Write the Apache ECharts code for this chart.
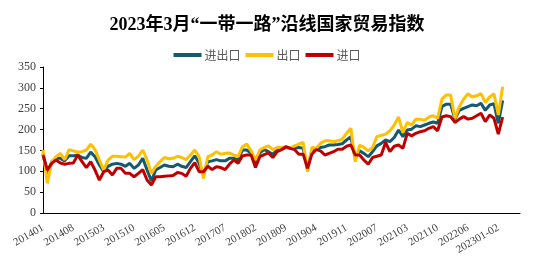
<!DOCTYPE html>
<html>
<head>
<meta charset="utf-8">
<script src="https://cdn.jsdelivr.net/npm/echarts@6/dist/echarts.min.js"></script>
<style>html,body{margin:0;padding:0;background:#fff;}#c{width:534px;height:267px;}</style>
</head>
<body>
<div id="c"></div>
<script>
const titleText = '2023年3月“一带一路”沿线国家贸易指数';
const seriesNames = ['进出口', '出口', '进口'];
const categories = [
'201401','201402','201403','201404','201405','201406','201407','201408','201409','201410','201411','201412',
'201501','201502','201503','201504','201505','201506','201507','201508','201509','201510','201511','201512',
'201601','201602','201603','201604','201605','201606','201607','201608','201609','201610','201611','201612',
'201701','201702','201703','201704','201705','201706','201707','201708','201709','201710','201711','201712',
'201801','201802','201803','201804','201805','201806','201807','201808','201809','201810','201811','201812',
'201901','201902','201903','201904','201905','201906','201907','201908','201909','201910','201911','201912',
'202001-02','202003','202004','202005','202006','202007','202008','202009','202010','202011','202012',
'202101-02','202103','202104','202105','202106','202107','202108','202109','202110','202111','202112',
'202201-02','202203','202204','202205','202206','202207','202208','202209','202210','202211','202212',
'202301-02','202303','202304','202305','202306','202307'
];
const totalIndex = [
143,92,123,131,131,125,137,137,139,133,131,146,
135,115,99,112,117,119,117,112,119,107,115,131,
103,77,103,109,115,112,111,117,112,109,123,137,
119,92,123,125,128,125,125,131,131,127,151,151,
143,118,144,152,147,141,151,152,157,155,155,157,
155,103,151,155,157,159,163,163,164,166,175,183,
131,149,143,135,147,161,167,175,171,181,199,
183,199,201,209,207,211,215,218,215,255,261,
261,225,246,251,255,259,257,263,246,259,262,
215,270
];
const exportIndex = [
151,71,123,135,143,128,152,149,146,147,151,165,
152,127,103,127,136,136,135,134,143,128,136,151,
127,95,112,123,133,130,131,136,133,128,139,151,
135,83,135,139,147,141,143,144,139,135,159,165,
149,127,151,157,161,152,157,157,159,155,161,165,
169,99,157,155,167,173,173,171,173,177,191,203,
123,163,157,149,157,183,186,189,197,211,230,
193,217,211,225,225,222,230,233,227,273,283,
283,227,255,273,286,278,281,286,265,278,286,
235,303
];
const importIndex = [
139,103,119,127,120,117,119,120,139,123,109,123,
103,79,99,103,91,107,107,95,95,87,95,104,
79,67,87,87,88,89,90,97,95,88,107,121,
99,99,112,104,111,109,104,117,127,119,137,139,
139,109,135,140,144,133,147,152,159,155,152,141,
141,107,141,152,149,139,143,147,153,153,160,163,
139,139,127,117,133,136,139,169,147,160,163,
155,191,185,191,195,197,203,207,197,230,233,
231,217,225,231,225,227,233,239,219,235,227,
189,230
];
const yTicks = {min: 0, max: 350, interval: 50};
const colors = ['#135B6C', '#FFC000', '#C00000'];

const chart = echarts.init(document.getElementById('c'), null, {renderer: 'canvas'});
const serif = '"Liberation Serif", "Times New Roman", "Noto Sans CJK SC", serif';
chart.setOption({
  animation: false,
  backgroundColor: '#ffffff',
  title: {
    text: titleText,
    left: 'center',
    top: 11,
    textStyle: {fontFamily: serif, fontSize: 18, fontWeight: 'bold', color: '#000000'}
  },
  legend: {
    data: seriesNames,
    top: 44,
    left: 'center',
    icon: 'rect',
    itemWidth: 28,
    itemHeight: 4,
    itemGap: 5,
    textStyle: {fontFamily: '"Noto Sans CJK SC", sans-serif', fontSize: 12, color: '#595959', padding: [0, 0, 0, -2]}
  },
  grid: {left: 43, right: 14, top: 67, bottom: 54, containLabel: false},
  xAxis: {
    type: 'category',
    data: categories,
    boundaryGap: false,
    axisLine: {show: true, lineStyle: {color: '#000000', width: 1}},
    axisTick: {show: false},
    axisLabel: {interval: 6, rotate: 30, margin: 14, fontFamily: serif, fontSize: 11, color: '#404040'},
    splitLine: {show: false}
  },
  yAxis: {
    type: 'value',
    min: yTicks.min, max: yTicks.max, interval: yTicks.interval,
    axisLine: {show: true, lineStyle: {color: '#000000', width: 1}},
    axisTick: {show: true, length: 3, lineStyle: {color: '#000000'}},
    axisLabel: {margin: 7, fontFamily: serif, fontSize: 12, color: '#404040'},
    splitLine: {show: false}
  },
  series: [
    {name: seriesNames[0], type: 'line', data: totalIndex, symbol: 'none', lineStyle: {width: 3, color: colors[0]}, itemStyle: {color: colors[0]}, z: 2},
    {name: seriesNames[1], type: 'line', data: exportIndex, symbol: 'none', lineStyle: {width: 3, color: colors[1]}, itemStyle: {color: colors[1]}, z: 3},
    {name: seriesNames[2], type: 'line', data: importIndex, symbol: 'none', lineStyle: {width: 3, color: colors[2]}, itemStyle: {color: colors[2]}, z: 4}
  ]
});
</script>
</body>
</html>
